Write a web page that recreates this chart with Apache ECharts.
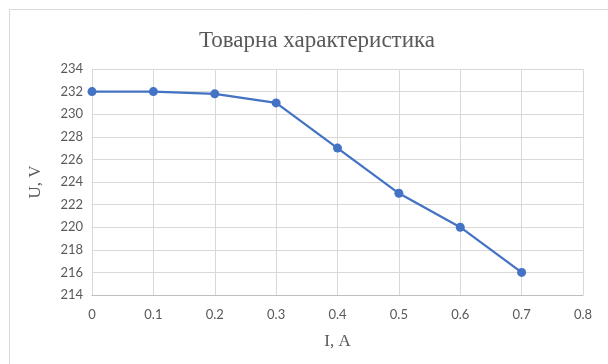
<!DOCTYPE html>
<html><head><meta charset="utf-8">
<script src="https://cdn.jsdelivr.net/npm/echarts@6/dist/echarts.min.js"></script>
<style>html,body{margin:0;padding:0;background:#fff}#c{width:608px;height:364px}</style>
</head><body><div id="c"></div>
<script>
const title = "Товарна характеристика";
const xName = "I, A";
const yName = "U, V";
const currents = [0, 0.1, 0.2, 0.3, 0.4, 0.5, 0.6, 0.7];
const voltages = [232, 232, 231.8, 231, 227, 223, 220, 216];

const chart = echarts.init(document.getElementById('c'), null, {renderer: 'canvas'});
const labelFont = {color: '#595959', fontSize: 13, fontFamily: 'Lato'};
chart.setOption({
  animation: false,
  backgroundColor: '#fff',
  graphic: [{type: 'rect', shape: {x: 9.5, y: 9.5, width: 700, height: 500}, style: {fill: 'none', stroke: '#d9d9d9', lineWidth: 1}, silent: true}],
  title: {text: title, left: 312, top: 24, textAlign: 'center',
    textStyle: {fontFamily: 'Liberation Serif', fontSize: 23, fontWeight: 'normal', color: '#595959'}},
  grid: {left: 92, right: 25, top: 69, bottom: 69},
  xAxis: {type: 'value', min: 0, max: 0.8, interval: 0.1,
    name: xName, nameLocation: 'middle', nameGap: 38,
    nameTextStyle: {fontFamily: 'Liberation Serif', fontSize: 17, color: '#595959'},
    axisLine: {show: true, lineStyle: {color: '#bfbfbf'}},
    axisTick: {show: false},
    axisLabel: Object.assign({margin: 13, formatter: v => String(Math.round(v*10)/10)}, labelFont),
    splitLine: {show: true, lineStyle: {color: '#d9d9d9'}}},
  yAxis: {type: 'value', min: 214, max: 234, interval: 2,
    name: yName, nameLocation: 'middle', nameGap: 48, nameRotate: 90,
    nameTextStyle: {fontFamily: 'Liberation Serif', fontSize: 17, color: '#595959'},
    axisLine: {show: false}, axisTick: {show: false},
    axisLabel: Object.assign({margin: 9}, labelFont),
    splitLine: {show: true, lineStyle: {color: '#d9d9d9'}}},
  series: [{type: 'line', data: currents.map((c, i) => [c, voltages[i]]),
    symbol: 'circle', symbolSize: 9,
    lineStyle: {color: '#4472c4', width: 2.25},
    itemStyle: {color: '#4472c4'}}]
});
</script></body></html>
